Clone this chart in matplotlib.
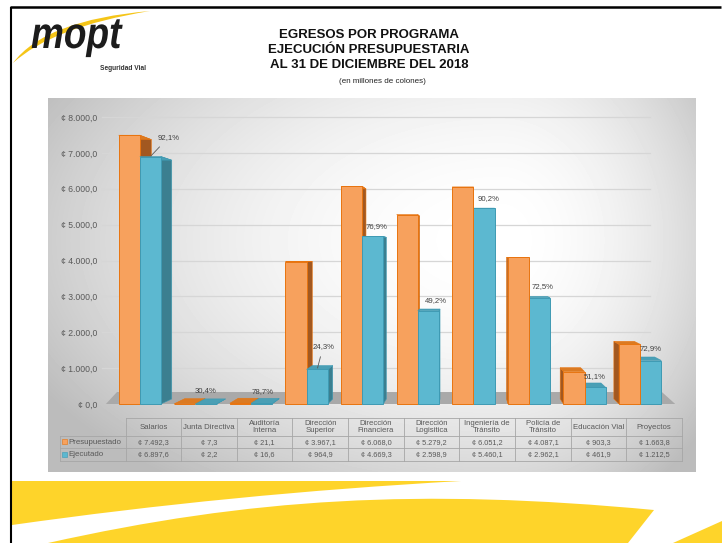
import numpy as np
import matplotlib
matplotlib.use("Agg")
import matplotlib.pyplot as plt
from matplotlib.patches import Polygon, PathPatch
from matplotlib.path import Path
from matplotlib.textpath import TextPath
from matplotlib.font_manager import FontProperties
from matplotlib.transforms import Affine2D

plt.rcParams["font.family"] = ["Liberation Sans", "DejaVu Sans"]

# --- data (millones de colones) ---
categories = ["Salarios", "Junta Directiva", "Auditoría\nInterna", "Dirección\nSuperior",
              "Dirección\nFinanciera", "Dirección\nLogisitica", "Ingeniería de\nTránsito",
              "Policía de\nTránsito", "Educación Vial", "Proyectos"]
presupuestado = [7492.3, 7.3, 21.1, 3967.1, 6068.0, 5279.2, 6051.2, 4087.1, 903.3, 1663.8]
ejecutado = [6897.6, 2.2, 16.6, 964.9, 4669.3, 2598.9, 5460.1, 2962.1, 461.9, 1212.5]
porcentaje = ["92,1%", "30,4%", "78,7%", "24,3%", "76,9%", "49,2%", "90,2%", "72,5%", "51,1%", "72,9%"]
series_names = ["Presupuestado", "Ejecutado"]
yticks = np.arange(0, 8001, 1000)

# label offsets in pixels (dx, dy) from top centre of the Ejecutado bar, and leader flag
label_offsets = [(18, 19, True), (0, 13, False), (1, 12, False), (6, 23, True), (4, 10, False),
                 (8, 10, False), (5, 10, False), (3, 11, False), (0, 11, False), (0, 12, False)]

ORANGE = dict(front="#F7A15D", edge="#E8740F", side="#A25820", top="#DB7A22")
BLUE = dict(front="#5CB8D0", edge="#3E9AB3", side="#3B7F90", top="#4A9FB5")
TEXT = "#595959"
YELLOW = "#FED42A"


def colones(v):
    s = f"{v:,.1f}".replace(",", "X").replace(".", ",").replace("X", ".")
    return f"¢ {s}"


W, H = 722, 543
fig = plt.figure(figsize=(W / 100, H / 100), dpi=100)

# page layer in pixel coordinates (y down)
page = fig.add_axes([0, 0, 1, 1])
page.axis("off")

# chart panel gradient
px0, px1, py0, py1 = 48, 696, 98, 472
xx, yy = np.meshgrid(np.arange(px0, px1), np.arange(py0, py1))
dx = xx - 500.0
sx = np.where(dx < 0, 470.0, 230.0)
r = np.sqrt((dx / sx) ** 2 + ((yy - 240.0) / 270.0) ** 2)
shade = 1 - 0.21 * np.clip(r, 0, 1.12) ** 2
page.imshow(shade, cmap="gray", vmin=0, vmax=1, extent=(px0, px1, py1, py0),
            aspect="auto", zorder=0, interpolation="bilinear")
page.set_xlim(0, W)
page.set_ylim(H, 0)

# page frame
page.plot([11, 11], [7, H], color="black", lw=1.5, zorder=5, solid_capstyle="butt")
page.plot([10.3, 721], [7, 7], color="black", lw=1.8, zorder=5, solid_capstyle="butt")

# bottom yellow bands
C3, L2, M = Path.CURVE3, Path.LINETO, Path.MOVETO
C4 = Path.CURVE4
band1 = Path([(12, 481), (461, 481), (230, 494), (12, 525), (12, 481)],
             [M, L2, C3, C3, Path.CLOSEPOLY])
band2 = Path([(48, 543), (250, 498), (420, 488), (654, 510), (628, 543), (48, 543)],
             [M, C4, C4, C4, L2, Path.CLOSEPOLY])
page.add_patch(PathPatch(band1, facecolor=YELLOW, edgecolor="none", zorder=1))
page.add_patch(PathPatch(band2, facecolor=YELLOW, edgecolor="none", zorder=1))
page.add_patch(Polygon([(673, 543), (722, 521), (722, 543)], closed=True,
                       facecolor=YELLOW, edgecolor="none", zorder=1))

# logo: condensed bold italic wordmark with a yellow swoosh
swoosh = Path([(13, 63), (45, 20), (150, 11), (52, 27), (13, 63)],
              [M, C3, C3, C3, C3])
page.add_patch(PathPatch(swoosh, facecolor="#F5C518", edgecolor="none", zorder=2))
logo = TextPath((0, 0), "mopt", size=1,
                prop=FontProperties(family="Liberation Sans", weight="bold", style="italic"))
logo_tr = Affine2D().scale(37, -44).translate(31, 48)
page.add_patch(PathPatch(logo_tr.transform_path(logo), facecolor="#1c1c1c",
                         edgecolor="none", zorder=3))
page.text(123, 68, "Seguridad Vial", fontsize=4.8, fontweight="bold", color="#333333",
          ha="center", va="center", zorder=3)

# titles
for yt, line in zip([35, 50, 65.5], ["EGRESOS POR PROGRAMA", "EJECUCIÓN PRESUPUESTARIA",
                                     "AL 31 DE DICIEMBRE DEL 2018"]):
    page.text(369, yt, line, fontsize=9.5, fontweight="bold", ha="center", va="center",
              color="#111111")
page.text(382, 81.5, "(en millones de colones)", fontsize=5.8, ha="center", va="center",
          color="#222222")

# data table
n = len(categories)
col_x0, col_w = 125.5, 55.65
ty = [417.7, 435.7, 448.3, 460.7]
col_edges = [col_x0 + col_w * j for j in range(n + 1)]
lc = "#a6a6a6"
page.plot([col_edges[0], col_edges[-1]], [ty[0], ty[0]], color=lc, lw=0.6, zorder=3)
for yl in ty[1:]:
    page.plot([60, col_edges[-1]], [yl, yl], color=lc, lw=0.6, zorder=3)
page.plot([60, 60], [ty[1], ty[3]], color=lc, lw=0.6, zorder=3)
for xe in col_edges:
    page.plot([xe, xe], [ty[0], ty[3]], color=lc, lw=0.6, zorder=3)
for j, name in enumerate(categories):
    cx = col_edges[j] + col_w / 2
    page.text(cx, (ty[0] + ty[1]) / 2 + 0.5, name, fontsize=5.6, color=TEXT, ha="center",
              va="center", linespacing=1.0, zorder=4)
    page.text(cx, (ty[1] + ty[2]) / 2 + 0.3, colones(presupuestado[j]), fontsize=5.3,
              color=TEXT, ha="center", va="center", zorder=4)
    page.text(cx, (ty[2] + ty[3]) / 2 + 0.3, colones(ejecutado[j]), fontsize=5.3,
              color=TEXT, ha="center", va="center", zorder=4)
for k, (name, pal) in enumerate(zip(series_names, [ORANGE, BLUE])):
    yc = (ty[k + 1] + ty[k + 2]) / 2
    page.add_patch(Polygon([(62, yc - 2.6), (67, yc - 2.6), (67, yc + 2.4), (62, yc + 2.4)],
                           closed=True, facecolor=pal["front"], edgecolor=pal["edge"],
                           lw=0.4, zorder=4))
    page.text(68, yc + 0.3, name, fontsize=5.7, color=TEXT, ha="left", va="center", zorder=4)

# --- bar chart ---
CAT_W = 55.6      # px per category
VAL_PX = 0.035875  # px per colon-million
X0_PX, Y0_PX = 139.8, 404.0
ax_l, ax_r, ax_t, ax_b = 100, 680, 110, 412
ax = fig.add_axes([ax_l / W, 1 - ax_b / H, (ax_r - ax_l) / W, (ax_b - ax_t) / H])
ax.patch.set_alpha(0)
ax.set_xlim((ax_l - X0_PX) / CAT_W, (ax_r - X0_PX) / CAT_W)
ax.set_ylim((Y0_PX - ax_b) / VAL_PX, (Y0_PX - ax_t) / VAL_PX)
for s in ax.spines.values():
    s.set_visible(False)
ax.set_xticks([])
ax.set_yticks(yticks)
ax.set_yticklabels([colones(v) for v in yticks], fontsize=6.2, color=TEXT)
ax.tick_params(axis="y", length=0, pad=2)

# back-wall gridlines and floor
for v in yticks[1:]:
    ax.plot([-0.68, 9.18], [v, v], color="#d6d6d6", lw=0.9, zorder=0.5)
ax.add_patch(Polygon([(-0.61, 0), (9.63, 0), (9.39, 334), (-0.41, 334)], closed=True,
                     facecolor="#a9a9a9", edgecolor="none", zorder=1))

XV, YV, K = (470 - X0_PX) / CAT_W, 4000.0, 0.035
BW = 0.38


def back(px, py):
    return px + K * (XV - px), py + K * (YV - py)


def bar3d(x0, x1, h, pal, z):
    xc = (x0 + x1) / 2
    xs = x1 if xc < XV else x0
    side = [(xs, 0), (xs, h), back(xs, h), back(xs, 0)]
    top = [(x0, h), (x1, h), back(x1, h), back(x0, h)]
    ax.add_patch(Polygon(side, closed=True, facecolor=pal["side"], edgecolor=pal["edge"],
                         lw=0.4, zorder=z))
    ax.add_patch(Polygon(top, closed=True, facecolor=pal["top"], edgecolor=pal["edge"],
                         lw=0.4, zorder=z))
    ax.add_patch(Polygon([(x0, 0), (x1, 0), (x1, h), (x0, h)], closed=True,
                         facecolor=pal["front"], edgecolor=pal["edge"], lw=0.7, zorder=z + 0.5))


for i in range(n):
    left_side = i < XV
    zo, zb = (2, 4) if left_side else (4, 2)
    bar3d(i - BW, i, presupuestado[i], ORANGE, zo)
    bar3d(i, i + BW, ejecutado[i], BLUE, zb)

    dxp, dyp, leader = label_offsets[i]
    xb = i + BW / 2
    arrow = dict(arrowstyle="-", color="#595959", lw=0.6, shrinkA=3, shrinkB=1) if leader else None
    ax.annotate(porcentaje[i], xy=(xb, ejecutado[i]), xytext=(dxp, dyp),
                textcoords="offset pixels", ha="center", va="center", fontsize=5.6,
                color="#404040", zorder=8, arrowprops=arrow)

fig.savefig("out.png", dpi=100)
